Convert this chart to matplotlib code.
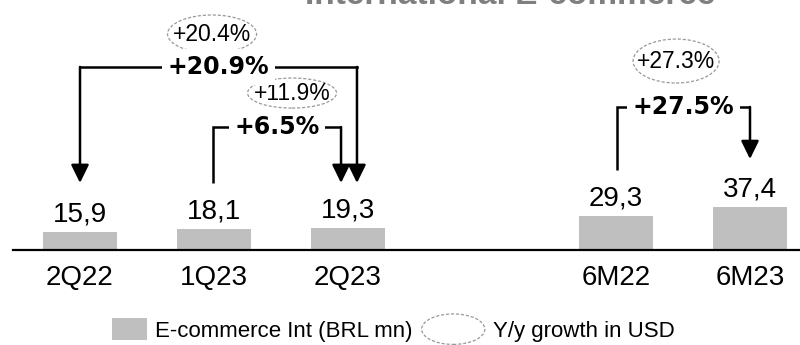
import matplotlib
matplotlib.use("Agg")
import matplotlib.pyplot as plt
from matplotlib.patches import Ellipse, Patch
from matplotlib.legend_handler import HandlerPatch

plt.rcParams['font.family'] = 'Liberation Sans'

# International e-commerce revenue, BRL mn
periods = ['2Q22', '1Q23', '2Q23', '6M22', '6M23']
revenue = [15.9, 18.1, 19.3, 29.3, 37.4]
slots = [0, 1, 2, 4, 5]  # gap between quarters and half-years

# growth brackets: (from period, to period), BRL growth, USD growth
growth_pairs = [(0, 2), (1, 2), (3, 4)]
growth_brl = ['+20.9%', '+6.5%', '+27.5%']
growth_usd = ['+20.4%', '+11.9%', '+27.3%']

bar_color = '#bfbfbf'
oval_color = '#999999'

# bracket geometry (data units): top line, end of left leg, arrow tip,
# small x nudges for the legs, left arrow on/off, oval centre/size
brackets = [
    dict(top=157.8, left_end=57.8, tip=57.8, dxl=0.0, dxr=0.067, left_arrow=True,
         oval=(-0.048, 186.2, 0.664, 32.8)),
    dict(top=106.0, left_end=57.8, tip=57.8, dxl=-0.007, dxr=-0.052, left_arrow=False,
         oval=(0.112, 135.3, 0.664, 25.9)),
    dict(top=123.3, left_end=69.0, tip=78.4, dxl=0.007, dxr=0.0, left_arrow=False,
         oval=(-0.055, 162.9, 0.642, 37.9)),
]

px_per_unit = 1.16
fig = plt.figure(figsize=(8, 3.45), dpi=100)
ax = fig.add_axes([0, 95 / 345, 1, 250 / 345])
ax.set_xlim(-80 / 134, 720 / 134)
ax.set_ylim(0, 250 / px_per_unit)

ax.bar(slots, revenue, width=0.55, color=bar_color, zorder=2)
for x, v in zip(slots, revenue):
    ax.annotate(f'{v:.1f}'.replace('.', ','), (x, v), xytext=(0, 7.5),
                textcoords='offset points', ha='center', va='baseline',
                fontsize=20, color='black')

for side in ['top', 'left', 'right']:
    ax.spines[side].set_visible(False)
ax.spines['bottom'].set_linewidth(1.6)
ax.spines['bottom'].set_bounds(-0.5, 720 / 134)
ax.set_yticks([])
ax.set_xticks(slots)
ax.set_xticklabels(periods, fontsize=20)
ax.tick_params(axis='x', length=0, pad=11)

arrow_kw = dict(arrowstyle='-|>,head_length=0.55,head_width=0.27', color='black',
                lw=1.8, mutation_scale=20, shrinkA=0, shrinkB=0)

for (i, j), brl, usd, b in zip(growth_pairs, growth_brl, growth_usd, brackets):
    xl = slots[i] + b['dxl']
    xr = slots[j] + b['dxr']
    top = b['top']
    if b['left_arrow']:
        ax.annotate('', xy=(xl, b['left_end']), xytext=(xl, top), arrowprops=arrow_kw)
        ax.plot([xl, xr], [top, top], color='black', lw=1.8, solid_joinstyle='miter')
    else:
        ax.plot([xl, xl, xr], [b['left_end'], top, top], color='black', lw=1.8,
                solid_joinstyle='miter', solid_capstyle='butt')
    ax.annotate('', xy=(xr, b['tip']), xytext=(xr, top), arrowprops=arrow_kw)
    ax.text((xl + xr) / 2, top, brl, ha='center', va='center', fontsize=17,
            fontweight='bold', family='DejaVu Sans', zorder=4,
            bbox=dict(fc='white', ec='none', pad=4))

    ox, oy, ow, oh = b['oval']
    cx = (xl + xr) / 2 + ox
    ax.add_patch(Ellipse((cx, oy), ow, oh, fc='none', ec=oval_color, lw=0.9,
                         ls=(0, (2.5, 1.5))))
    ax.text(cx, oy, usd, ha='center', va='center', fontsize=16.5, color='black')

fig.text(0.6375, 1 - 4 / 345, 'International E-commerce', ha='center', va='baseline',
         fontsize=24, fontweight='bold', color='#7f7f7f')


def oval_handle(legend, orig_handle, xdescent, ydescent, width, height, fontsize):
    w, h = width * 1.8, height * 1.4
    return Ellipse((width - w / 2 - xdescent, height / 2 - ydescent), w, h)


handles = [Patch(fc=bar_color, ec='none'),
           Ellipse((0, 0), 1, 1, fc='none', ec=oval_color, lw=0.9, ls=(0, (2.5, 1.5)))]
fig.legend(handles, ['E-commerce Int (BRL mn)', 'Y/y growth in USD'],
           handler_map={Ellipse: HandlerPatch(patch_func=oval_handle)},
           loc='center left', bbox_to_anchor=(112 / 800, 1 - 330 / 345), ncol=2,
           frameon=False, fontsize=16, handlelength=1.58, handleheight=1.13,
           handletextpad=0.36, columnspacing=1.67, borderpad=0, borderaxespad=0)

fig.savefig('out.png', dpi=100)
